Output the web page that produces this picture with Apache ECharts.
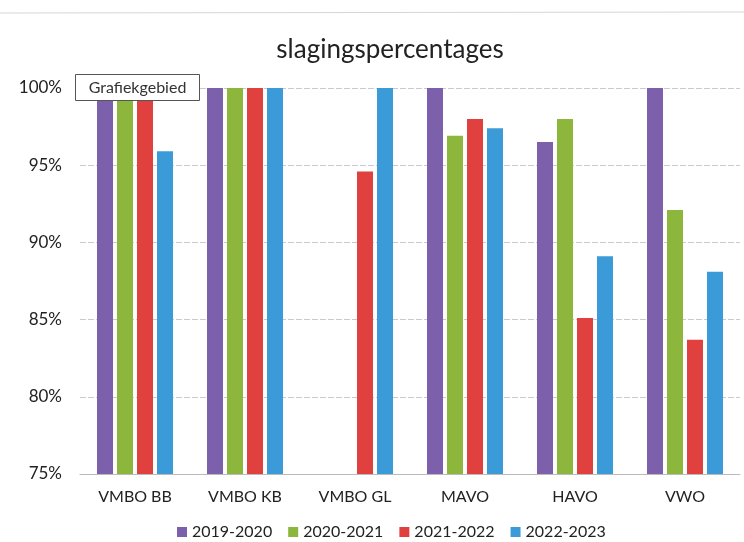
<!DOCTYPE html>
<html><head><meta charset="utf-8">
<script src="https://cdn.jsdelivr.net/npm/echarts@6/dist/echarts.min.js"></script>
<style>html,body{margin:0;padding:0;background:#fff}#c{width:744px;height:542px}</style>
</head><body><div id="c"></div>
<script>
const categories = ['VMBO BB','VMBO KB','VMBO GL','MAVO','HAVO','VWO'];
const seriesNames = ['2019-2020','2020-2021','2021-2022','2022-2023'];
const s2019 = [100, 100, null, 100, 96.5, 100];
const s2020 = [100, 100, null, 96.9, 98.0, 92.1];
const s2021 = [100, 100, 94.6, 98.0, 85.1, 83.7];
const s2022 = [95.9, 100, 100, 97.4, 89.1, 88.1];
const yTicks = [75, 80, 85, 90, 95, 100];
const colors = ['#7d60ab','#8db63c','#e0413f','#3b9bd8'];

const FONT = "Lato,'Liberation Sans',sans-serif";
const chart = echarts.init(document.getElementById('c'));
const all = [s2019, s2020, s2021, s2022];
chart.setOption({
  animation: false,
  color: colors,
  title: {
    text: 'slagingspercentages', left: 385, top: 32, textAlign: 'center',
    textStyle: {fontFamily: FONT, fontSize: 26, fontWeight: 'normal', color: '#222'}
  },
  legend: {
    bottom: -3, left: 172, itemWidth: 10, itemHeight: 10, itemGap: 16,
    icon: 'rect',
    textStyle: {fontFamily: FONT, fontSize: 16, color: '#222'},
    data: seriesNames
  },
  grid: {left: 80, right: 4, top: 88, bottom: 68},
  xAxis: {
    type: 'category', data: categories,
    axisLine: {lineStyle: {color: '#bbb'}}, axisTick: {show: false},
    axisLabel: {fontFamily: FONT, fontSize: 16, color: '#222', margin: 15}
  },
  yAxis: {
    type: 'value', min: yTicks[0], max: yTicks[yTicks.length-1], interval: 5,
    axisLine: {show: false}, axisTick: {show: false},
    axisLabel: {fontFamily: FONT, fontSize: 17, color: '#222', margin: 18, formatter: v => v + '%'},
    splitLine: {lineStyle: {color: '#c9c9d2', type: [6, 2]}}
  },
  series: all.map((d, i) => ({
    name: seriesNames[i], type: 'bar', data: d,
    barWidth: 16, barGap: '25%'
  })),
  graphic: [
    {type: 'line', z: 100, shape: {x1: 0, y1: 13, x2: 744, y2: 12}, style: {stroke: '#d5d5d5', lineWidth: 1}},
    {type: 'group', left: 75, top: 74, z: 100, children: [
      {type: 'rect', z: 100, shape: {x: 0, y: 0, width: 124, height: 26}, style: {fill: '#fff', stroke: '#555', lineWidth: 1}},
      {type: 'text', z: 101, x: 62, y: 13, style: {text: 'Grafiekgebied', fontFamily: FONT, fontSize: 16, fill: '#333', align: 'center', verticalAlign: 'middle'}}
    ]}
  ]
});
</script></body></html>
